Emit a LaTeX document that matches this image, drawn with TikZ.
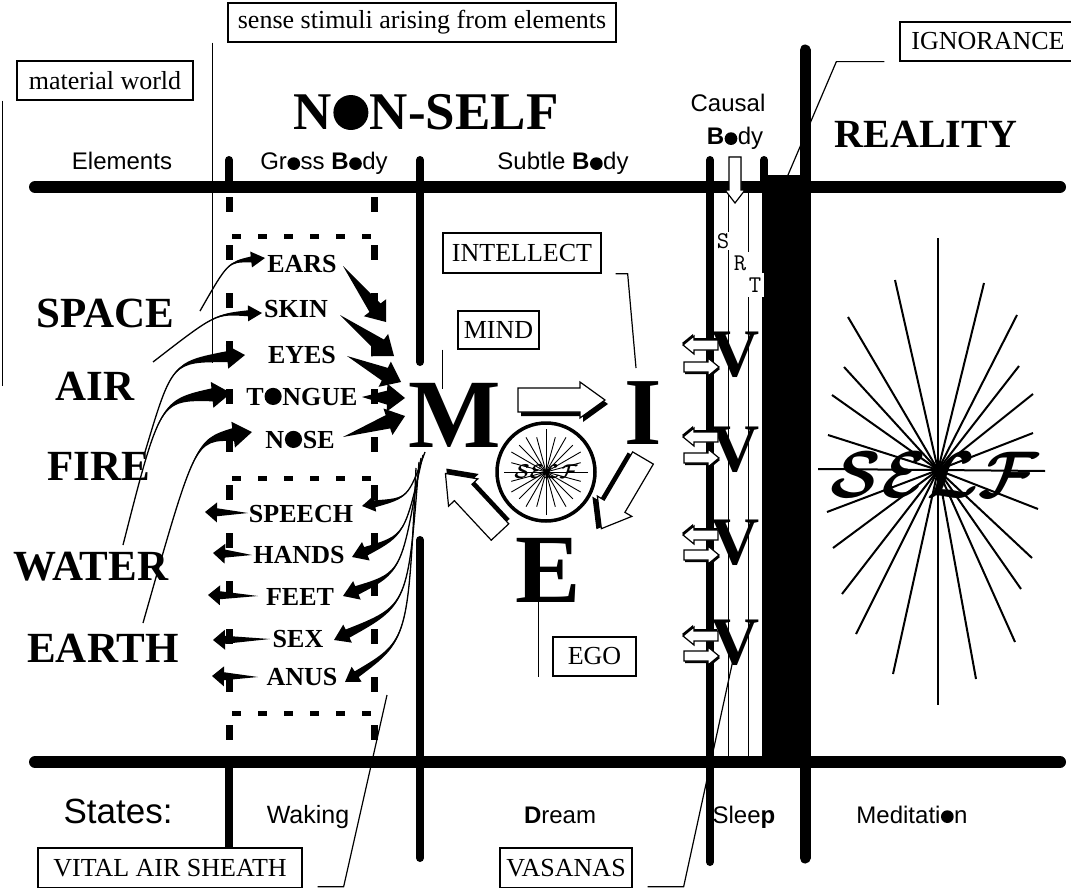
\documentclass[tikz,border=0pt]{standalone}
\usepackage{fontspec}
\usepackage{graphicx}
\setmainfont{Liberation Serif}
\newfontfamily\sansfam{Liberation Sans}
\usetikzlibrary{calc}
\newcommand{\capdot}{\kern0.03em\tikz[baseline=0pt]\fill (0pt,0.33em) circle (0.33em);\kern0.03em}
\newcommand{\lodot}{\kern0.02em\tikz[baseline=0pt]\fill (0pt,0.265em) circle (0.265em);\kern0.02em}
% tapered curved arrow: tail, control, tip, shaft half width, head half width, head length
\newcommand{\crv}[6]{%
 \coordinate (hb) at ($(#3)!#6!(#2)$);
 \fill (#1) .. controls (#2) .. ($(hb)!#4!90:(#3)$) -- ($(hb)!#5!90:(#3)$) -- (#3) -- ($(hb)!#5!-90:(#3)$) -- ($(hb)!#4!-90:(#3)$) .. controls (#2) .. (#1) -- cycle;
 \draw[line width=1.3pt] (#1) .. controls (#2) .. (hb);}
% straight wedge arrow: tail, tip, shaft half width, head half width, head length
\newcommand{\wdg}[5]{%
 \coordinate (hb) at ($(#2)!#5!(#1)$);
 \fill (#1) -- ($(hb)!#3!90:(#2)$) -- ($(hb)!#4!90:(#2)$) -- (#2) -- ($(hb)!#4!-90:(#2)$) -- ($(hb)!#3!-90:(#2)$) -- cycle;}
% white block arrow with shadow: x, y, angle, length, shaft half, head half, head length, shadow shift
\newcommand{\blockarrow}[8]{%
 \begin{scope}[shift={(#1,#2)}, rotate=#3]
  \begin{scope}[shift={#8}]
   \fill (0,-#5) -- ({#4-#7},-#5) -- ({#4-#7},-#6) -- (#4,0) -- ({#4-#7},#6) -- ({#4-#7},#5) -- (0,#5) -- cycle;
  \end{scope}
  \filldraw[fill=white, draw=black, line width=1.2pt, line join=miter] (0,-#5) -- ({#4-#7},-#5) -- ({#4-#7},-#6) -- (#4,0) -- ({#4-#7},#6) -- ({#4-#7},#5) -- (0,#5) -- cycle;
 \end{scope}}
\begin{document}
\begin{tikzpicture}[x=1pt,y=-1pt,
 thk/.style={line width=12pt, line cap=round},
 vthk/.style={line width=8pt, line cap=round},
 thin/.style={line width=1.2pt},
 bx/.style={draw, fill=white, line width=1.3pt, inner sep=0pt, font=\fontsize{26}{30}\selectfont},
 sl/.style={anchor=base, inner sep=0pt, font=\sansfam\fontsize{24}{28}\selectfont},
 el/.style={anchor=base, inner sep=0pt, font=\bfseries\fontsize{43}{46}\selectfont},
 org/.style={anchor=base, inner sep=0pt, font=\bfseries\fontsize{26}{30}\selectfont},
 big/.style={inner sep=0pt, font=\bfseries\fontsize{98}{100}\selectfont},
 vv/.style={inner sep=0pt, font=\bfseries\fontsize{68}{70}\selectfont},
 ml/.style={fill=white, inner sep=1.5pt, font=\ttfamily\fontsize{24}{26}\selectfont},
 ray/.style={line width=2pt},
 dsh/.style={line width=7pt, dash pattern=on 15pt off 33pt},
 dshh/.style={line width=5pt, dash pattern=on 9pt off 17pt}
]
\useasboundingbox (0,0) rectangle (1071,888);

% thin lines of the causal body
\draw[line width=1pt] (728,187) -- (728,762);
\draw[line width=1pt] (748,187) -- (748,762);

% frame
\draw[thk] (35,187) -- (1060,187);
\draw[thk] (35,762) -- (1060,762);
\draw[vthk] (229,160) -- (229,187);
\draw[line width=8pt] (229,762) -- (229,848);
\draw[vthk] (420,160) -- (420,362);
\draw[vthk] (420,540) -- (420,858);
\draw[vthk] (710,160) -- (710,862);
\draw[vthk] (764,160) -- (764,187);
\draw[line width=11pt, line cap=round] (805,50) -- (805,858);
\fill (762,175) rectangle (810,762);

% dashed sheath
\draw[dsh] (229,197) -- (229,760);
\draw[dsh] (374,197) -- (374,760);
\draw[dshh] (232,236) -- (372,236);
\draw[dshh] (232,478) -- (372,478);
\draw[dshh] (232,713) -- (372,713);

% S R T
\node[ml] (S) at (723,241) {S};
\node[ml, inner xsep=2.5pt, inner ysep=4pt] (R) at (740,263) {R};
\node[ml, inner xsep=3pt, inner ysep=5pt] (T) at (755,285) {T};

% down arrow into causal body
\blockarrow{735}{157}{270}{46}{6}{10}{13}{(0,0)}

% headings
\node[sl] (elements) at (122,170) {Elements};
\node[sl] (gross) at (324,170) {Gr\lodot ss \textbf{B}\lodot dy};
\node[sl] (subtle) at (563,170) {Subtle \textbf{B}\lodot dy};
\node[sl] (causal) at (728,112) {Causal};
\node[sl] (cbody) at (735,145) {\textbf{B}\lodot dy};
\node[anchor=base, inner sep=0pt, font=\bfseries\fontsize{40}{44}\selectfont] (reality) at (926,148) {REALITY};
\node[anchor=base, inner sep=0pt, font=\bfseries\fontsize{53}{56}\selectfont] (nonself) at (426,130) {N\capdot N-SELF};

\node[sl, font=\sansfam\fontsize{35}{40}\selectfont] (states) at (118,823) {States:};
\node[sl, font=\sansfam\fontsize{25}{28}\selectfont] (waking) at (308,823) {Waking};
\node[sl] (dream) at (560,823) {\textbf{D}ream};
\node[sl] (sleep) at (744,823) {Slee\textbf{p}};
\node[sl] (medit) at (912,823) {Meditati\lodot n};

% elements
\node[el] (space) at (105,327) {SPACE};
\node[el] (air) at (95,400) {AIR};
\node[el] (fire) at (99,480) {FIRE};
\node[el] (water) at (91,580) {WATER};
\node[el] (earth) at (103,662) {EARTH};

% organs
\node[org] (ears) at (302,272) {EARS};
\node[org] (skin) at (296,317) {SKIN};
\node[org] (eyes) at (302,363) {EYES};
\node[org] (tongue) at (302,405) {T\capdot NGUE};
\node[org] (nose) at (300,448) {N\capdot SE};
\node[org] (speech) at (301,522) {SPEECH};
\node[org] (hands) at (299,563) {HANDS};
\node[org] (feet) at (300,605) {FEET};
\node[org] (sex) at (298,647) {SEX};
\node[org] (anus) at (302,685) {ANUS};

% element -> organ arrows
\crv{200,311}{228,262}{265,258}{3pt}{8pt}{14pt}
\crv{153,362}{215,314}{262,313}{3pt}{8pt}{14pt}
\crv{145,452}{172,362}{245,355}{5.5pt}{12pt}{18pt}
\crv{123,545}{160,400}{231,393}{6.5pt}{13pt}{19pt}
\crv{143,623}{195,440}{252,432}{6.5pt}{13pt}{19pt}

% organ -> mind wedges
\wdg{343,266}{386,322}{7pt}{14pt}{18pt}
\wdg{340,315}{394,356}{7pt}{14pt}{18pt}
\wdg{347,356}{401,382}{7pt}{14pt}{18pt}
\wdg{362,397}{405,398}{7pt}{14pt}{18pt}
\wdg{343,437}{405,416}{7pt}{14pt}{18pt}

% mind -> organs of action
\crv{425,452}{408,498}{362,506}{3.5pt}{8pt}{13pt}
\crv{423,455}{405,535}{352,557}{4.5pt}{10pt}{15pt}
\crv{421,458}{402,572}{343,596}{4.5pt}{10pt}{15pt}
\crv{419,462}{408,605}{334,640}{4.5pt}{10pt}{15pt}
\crv{416,468}{408,640}{345,682}{3.5pt}{9pt}{14pt}

% organs of action -> out
\wdg{248,513}{205,512}{4pt}{10pt}{12pt}
\wdg{252,555}{213,553}{4pt}{10pt}{12pt}
\wdg{258,596}{208,595}{4pt}{10pt}{12pt}
\wdg{270,639}{213,640}{4pt}{10pt}{12pt}
\wdg{258,677}{212,676}{4pt}{10pt}{12pt}

% M I E
\node[big] (M) at (455,415) {M};
\node[big, font=\bfseries\fontsize{96}{100}\selectfont] (I) at (643,413) {I};
\node[big] (E) at (548,570) {E};
\blockarrow{518}{400}{0}{87}{12}{18}{25}{(3,4)}
\blockarrow{643}{458}{239.5}{82}{12}{20}{26}{(3,4)}
\blockarrow{500}{532}{133}{80}{12}{20}{26}{(3,4)}

% self in circle
\coordinate (sc) at (546,472);
\foreach \ang/\rr in {0/42,15/36,30/40,45/38,60/40,75/36,90/43,105/36,120/40,135/38,150/40,165/36}
  \draw[line width=0.9pt] ($(sc)+(\ang:\rr)$) -- ($(sc)+(\ang+180:\rr)$);
\node[circle, draw, line width=3.5pt, minimum size=98pt, inner sep=0pt] (selfcirc) at (sc) {};
\node[inner sep=0pt] (smallself) at (546,472) {\scalebox{2}{\boldmath$\mathcal{SELF}$}};

% V column
\foreach \vy/\nm in {355/v1,450/v2,543/v3,643/v4}{
  \node[vv] (\nm) at (735,\vy) {V};
}
\foreach \ly/\ry in {345/367,437/458,535/555,636/656}{
  \blockarrow{718}{\ly}{180}{35}{5}{9}{11}{(1,2)}
  \blockarrow{684}{\ry}{0}{35}{5}{9}{11}{(1,2)}
}

% big SELF
\coordinate (sc2) at (938,470);
\foreach \a/\b in {938/238, 895/280, 984/283, 848/317, 1017/315, 844/367, 1019/366, 832/395, 1033/394, 828/435, 1033/433, 818/469, 1045/471, 827/512, 1038/509, 833/548, 1032/558, 842/594, 1021/589, 856/634, 1015/642, 893/674, 976/679, 938/705}
  \draw[ray] (sc2) -- (\a,\b);
\node[inner sep=0pt] (bigself) at (935,475) {\scalebox{6.6}{\boldmath$\mathcal{SELF}$}};

% boxes
\node[bx, minimum width=176pt, minimum height=39pt] (mw) at (105,80.5) {material world};
\node[bx, minimum width=388pt, minimum height=39pt] (ss) at (422,22.5) {sense stimuli arising from elements};
\node[bx, minimum width=176pt, minimum height=39pt] (ig) at (988,41.5) {IGNORANCE};
\node[bx, minimum width=158pt, minimum height=40pt] (int) at (522,253) {INTELLECT};
\node[bx, minimum width=81pt, minimum height=38pt] (mind) at (498.5,330) {MIND};
\node[bx, minimum width=83pt, minimum height=39pt] (ego) at (594.5,656.5) {EGO};
\node[bx, minimum width=264pt, minimum height=40pt] (vas) at (170,868) {VITAL AIR SHEATH};
\node[bx, minimum width=132pt, minimum height=40pt] (vsn) at (566,868) {VASANAS};

% callouts
\draw[thin] ([xshift=-14pt]mw.south west) -- ++(0,285);
\draw[thin] ([xshift=-15pt]ss.south west) -- ++(0,320);
\draw[thin] ([xshift=-15pt]ig.south west) -- ++(-48,0) -- (788,175);
\draw[thin] ([xshift=14pt]int.south east) -- ++(12,0) -- (636,368);
\draw[thin] ([xshift=-15pt]mind.south west) -- ++(0,39);
\draw[thin] ([xshift=-14pt]ego.south west) -- ++(0,-75);
\draw[thin] ([shift={(15pt,2pt)}]vas.south east) -- ++(26,0) -- (387,695);
\draw[thin] ([shift={(15pt,2pt)}]vsn.south east) -- ++(36,0) -- (733,660);
\end{tikzpicture}
\end{document}
